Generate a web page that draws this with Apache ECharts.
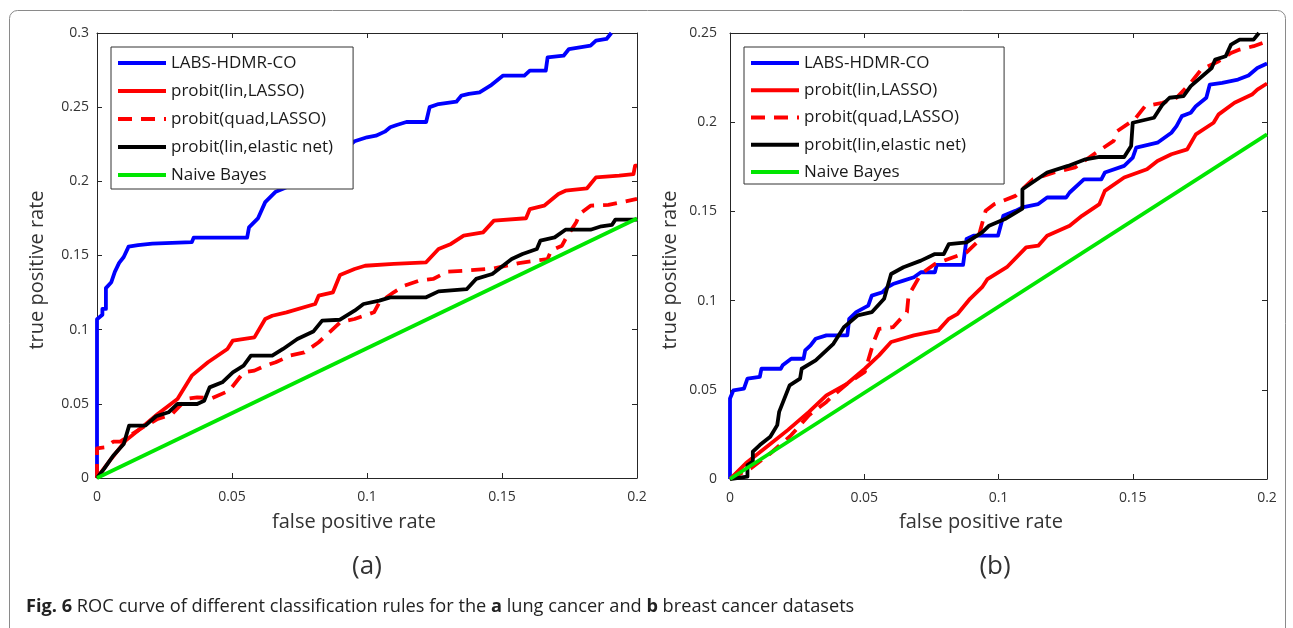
<!DOCTYPE html>
<html>
<head>
<meta charset="utf-8">
<script src="https://cdn.jsdelivr.net/npm/echarts@6/dist/echarts.min.js"></script>
<style>
  html, body { margin: 0; padding: 0; background: #fff; }
  #chart { width: 1293px; height: 628px; }
</style>
</head>
<body>
<div id="chart"></div>
<script>
const FONT = "'Open Sans', 'Noto Sans', sans-serif";
const palette = { blue: "#0000ff", red: "#ff0000", black: "#000000", green: "#00e600", axis: "#262626" };

const seriesNames = ["LABS-HDMR-CO", "probit(lin,LASSO)", "probit(quad,LASSO)", "probit(lin,elastic net)", "Naive Bayes"];
const xTicks = [0, 0.05, 0.1, 0.15, 0.2];
const lungYMax = 0.3;
const breastYMax = 0.25;

// (a) lung cancer, [false positive rate, true positive rate]
const lungLabs = [[0,0],[0,0.107],[0.002,0.11],[0.002,0.114],[0.0033,0.114],[0.0033,0.128],[0.0053,0.132],[0.0066,0.139],[0.0082,0.145],[0.0099,0.149],[0.0117,0.156],[0.0152,0.157],[0.0205,0.158],[0.0351,0.159],[0.0358,0.162],[0.0556,0.162],[0.0563,0.169],[0.0596,0.175],[0.0623,0.186],[0.0662,0.193],[0.0689,0.195],[0.075,0.2],[0.085,0.212],[0.092,0.222],[0.0954,0.227],[0.1,0.2297],[0.1033,0.2308],[0.1066,0.2335],[0.1086,0.2364],[0.111,0.238],[0.1146,0.24],[0.1219,0.24],[0.1232,0.25],[0.1265,0.2521],[0.1331,0.2537],[0.135,0.2578],[0.1377,0.2589],[0.1417,0.26],[0.1457,0.2645],[0.1503,0.2712],[0.1583,0.2712],[0.1603,0.2746],[0.1662,0.2746],[0.1669,0.2836],[0.1728,0.2847],[0.1748,0.2892],[0.1828,0.2915],[0.1848,0.2948],[0.1887,0.296],[0.1905,0.3]];
const lungLin = [[0,0],[0.0053,0.013],[0.0106,0.0252],[0.0159,0.033],[0.0225,0.0431],[0.0298,0.0533],[0.0351,0.069],[0.0411,0.078],[0.0483,0.087],[0.0503,0.0926],[0.0583,0.0948],[0.0623,0.1072],[0.0649,0.1094],[0.0702,0.1117],[0.0808,0.1173],[0.0821,0.1229],[0.0874,0.1252],[0.09,0.1369],[0.0954,0.1409],[0.0993,0.1431],[0.1099,0.1443],[0.1219,0.1454],[0.1265,0.1544],[0.1311,0.1578],[0.1358,0.1634],[0.143,0.1656],[0.147,0.1735],[0.1589,0.1751],[0.1603,0.1813],[0.1656,0.1836],[0.1709,0.1915],[0.1735,0.1937],[0.1815,0.1953],[0.1848,0.2027],[0.1934,0.2038],[0.1987,0.2049],[0.1993,0.2106],[0.2,0.2106]];
const lungQuad = [[0,0],[0,0.02],[0.0033,0.0207],[0.006,0.0245],[0.0086,0.0245],[0.0159,0.033],[0.0225,0.0398],[0.0278,0.0431],[0.0331,0.0533],[0.0371,0.0544],[0.0424,0.0537],[0.049,0.0589],[0.0543,0.0712],[0.0583,0.0724],[0.0623,0.0757],[0.0662,0.078],[0.0715,0.0825],[0.0768,0.0847],[0.0821,0.0915],[0.0848,0.096],[0.0901,0.105],[0.0954,0.1072],[0.1026,0.1117],[0.1046,0.1184],[0.1099,0.1252],[0.1139,0.1297],[0.1192,0.133],[0.1245,0.1342],[0.1298,0.1391],[0.1364,0.1398],[0.147,0.1413],[0.1563,0.1449],[0.1669,0.1476],[0.1682,0.1533],[0.1722,0.1566],[0.1735,0.1611],[0.1775,0.1724],[0.1788,0.178],[0.1828,0.1836],[0.1894,0.1841],[0.2,0.1881]];
const lungNet = [[0,0],[0.0026,0.0061],[0.006,0.015],[0.0099,0.0229],[0.0119,0.0353],[0.0179,0.0353],[0.0219,0.0416],[0.0265,0.0443],[0.0298,0.0499],[0.0371,0.0499],[0.0397,0.0521],[0.0417,0.0611],[0.0464,0.0645],[0.0503,0.0712],[0.0543,0.0757],[0.057,0.0825],[0.0649,0.0825],[0.0689,0.087],[0.0742,0.0937],[0.0801,0.0987],[0.0834,0.1061],[0.09,0.1067],[0.0954,0.1128],[0.0987,0.1173],[0.1046,0.1196],[0.1086,0.1218],[0.1219,0.1218],[0.1265,0.1258],[0.137,0.1274],[0.1404,0.1342],[0.1464,0.1375],[0.1536,0.1476],[0.1576,0.151],[0.1629,0.1544],[0.1642,0.16],[0.1695,0.1622],[0.1735,0.1674],[0.1828,0.1674],[0.1868,0.1697],[0.1907,0.1706],[0.192,0.1742],[0.2,0.1742]];
const lungBayes = [[0,0],[0.2,0.175]];

// (b) breast cancer
const breastLabs = [[0,0],[0,0.0451],[0.0013,0.0497],[0.0052,0.0507],[0.0065,0.0563],[0.0111,0.0572],[0.0117,0.0618],[0.0189,0.0618],[0.0196,0.0637],[0.0228,0.0674],[0.0274,0.0674],[0.028,0.0721],[0.03,0.0749],[0.0319,0.0786],[0.0359,0.0805],[0.0437,0.0805],[0.0444,0.0898],[0.047,0.0935],[0.0515,0.0972],[0.0528,0.1028],[0.0568,0.1047],[0.0587,0.1075],[0.0607,0.1093],[0.0646,0.1112],[0.0685,0.1131],[0.0711,0.1159],[0.0763,0.1159],[0.077,0.12],[0.0868,0.12],[0.0881,0.1345],[0.0907,0.1364],[0.0998,0.1364],[0.1018,0.1475],[0.1063,0.1503],[0.1089,0.1522],[0.1148,0.1541],[0.1181,0.1578],[0.1252,0.1578],[0.1265,0.1606],[0.1318,0.168],[0.1383,0.168],[0.1396,0.1718],[0.1468,0.1755],[0.15,0.1801],[0.1513,0.1857],[0.1592,0.1885],[0.1644,0.1941],[0.1663,0.1978],[0.1683,0.2034],[0.1716,0.2053],[0.1735,0.209],[0.1774,0.2137],[0.1787,0.2211],[0.1833,0.2221],[0.1892,0.2239],[0.1931,0.2262],[0.1964,0.2304],[0.2,0.2329]];
const breastLin = [[0,0],[0.0059,0.0088],[0.0137,0.0181],[0.0215,0.0274],[0.0294,0.0376],[0.0359,0.0469],[0.0437,0.0535],[0.0502,0.0618],[0.0555,0.0693],[0.06,0.0768],[0.0685,0.0805],[0.0776,0.0833],[0.0815,0.0898],[0.0848,0.0926],[0.0894,0.101],[0.0939,0.1075],[0.0959,0.1121],[0.1031,0.1187],[0.1103,0.1298],[0.1148,0.1308],[0.1181,0.1364],[0.1265,0.142],[0.1311,0.1475],[0.1376,0.1541],[0.1396,0.1615],[0.1468,0.169],[0.1553,0.1736],[0.1592,0.1783],[0.1644,0.182],[0.1703,0.1848],[0.1735,0.1932],[0.1801,0.1997],[0.182,0.2044],[0.1879,0.2109],[0.1944,0.2155],[0.1964,0.2183],[0.2,0.2217]];
const breastQuad = [[0,0],[0.0078,0.006],[0.015,0.0143],[0.0228,0.0246],[0.0294,0.0358],[0.0359,0.0432],[0.0385,0.0469],[0.0437,0.0535],[0.0502,0.06],[0.0535,0.0768],[0.0555,0.0842],[0.0607,0.0851],[0.0659,0.0935],[0.0665,0.1028],[0.0711,0.1149],[0.0763,0.1205],[0.0881,0.127],[0.092,0.1326],[0.0952,0.1503],[0.0985,0.1541],[0.1063,0.1587],[0.1128,0.168],[0.1207,0.1718],[0.1285,0.1746],[0.1363,0.1829],[0.1429,0.1895],[0.1442,0.195],[0.1507,0.2016],[0.1546,0.209],[0.1611,0.2109],[0.1663,0.2137],[0.1716,0.2221],[0.1755,0.2295],[0.182,0.2342],[0.1866,0.2388],[0.1898,0.2407],[0.195,0.2426],[0.2,0.2453]];
const breastNet = [[0,0],[0.0065,0.0013],[0.0065,0.0078],[0.0085,0.0097],[0.0085,0.0153],[0.0111,0.019],[0.015,0.0237],[0.0176,0.0302],[0.0183,0.0376],[0.0222,0.0525],[0.0261,0.0563],[0.0267,0.0618],[0.0319,0.0665],[0.0385,0.0758],[0.0424,0.0851],[0.0476,0.0917],[0.0528,0.0935],[0.0574,0.101],[0.06,0.1149],[0.0646,0.1187],[0.0711,0.1224],[0.0763,0.1261],[0.0796,0.1261],[0.0815,0.1317],[0.0881,0.1326],[0.0939,0.1382],[0.0965,0.142],[0.1024,0.1457],[0.1089,0.1516],[0.1089,0.1624],[0.1181,0.1718],[0.1259,0.1755],[0.1324,0.1792],[0.1376,0.1805],[0.1468,0.1805],[0.1494,0.1867],[0.15,0.1997],[0.1579,0.2025],[0.1611,0.2099],[0.1637,0.2137],[0.1689,0.2146],[0.1716,0.2202],[0.1794,0.2304],[0.1807,0.2351],[0.1846,0.237],[0.1866,0.2435],[0.1898,0.2463],[0.195,0.2463],[0.197,0.25]];
const breastBayes = [[0,0],[0.2,0.1932]];

const styles = [
  { color: palette.blue, type: "solid" },
  { color: palette.red, type: "solid" },
  { color: palette.red, type: [14, 9] },
  { color: palette.black, type: "solid" },
  { color: palette.green, type: "solid" },
];

function makeSeries(data, index, axis) {
  return {
    name: seriesNames[index],
    type: "line",
    xAxisIndex: axis,
    yAxisIndex: axis,
    data,
    symbol: "none",
    showSymbol: false,
    animation: false,
    itemStyle: { color: "rgba(0,0,0,0)" },
    lineStyle: { color: styles[index].color, width: 3.8, type: styles[index].type, join: "round" },
  };
}

function xAxisDef(grid, position, labels) {
  return {
    type: "value", gridIndex: grid, position, min: 0, max: 0.2, interval: 0.05,
    axisLine: { show: true, onZero: false, lineStyle: { color: palette.axis, width: 1 } },
    axisTick: { show: true, inside: true, length: 5, lineStyle: { color: palette.axis } },
    axisLabel: { show: labels, margin: 12, color: "#333", fontSize: 14, fontFamily: FONT },
    splitLine: { show: false },
  };
}

function yAxisDef(grid, position, max, labels, margin) {
  return {
    type: "value", gridIndex: grid, position, min: 0, max, interval: 0.05,
    axisLine: { show: true, onZero: false, lineStyle: { color: palette.axis, width: 1 } },
    axisTick: { show: true, inside: true, length: 5, lineStyle: { color: palette.axis } },
    axisLabel: { show: labels, margin, color: "#333", fontSize: 14, fontFamily: FONT },
    splitLine: { show: false },
  };
}

function legendDef(left, top, gap, padding) {
  return {
    left, top, orient: "vertical",
    data: seriesNames,
    itemWidth: 48, itemHeight: 17, itemGap: gap,
    padding,
    backgroundColor: "#fff",
    borderColor: "#333", borderWidth: 1, borderRadius: 0,
    selectedMode: false,
    itemStyle: { opacity: 0 },
    lineStyle: { width: 4 },
    textStyle: { color: "#1a1a1a", fontSize: 17, fontFamily: FONT, lineHeight: 17 },
    z: 10,
  };
}

function text(x, y, str, size, rotation) {
  return {
    type: "text", x, y, rotation: rotation || 0, z: 20,
    style: {
      text: str, fill: "#333", font: `${size}px ${FONT}`,
      align: "center", verticalAlign: "middle",
      textAlign: "center", textVerticalAlign: "middle",
    },
  };
}

const chart = echarts.init(document.getElementById("chart"), null, { renderer: "canvas" });
chart.setOption({
  backgroundColor: "#fff",
  animation: false,
  grid: [
    { left: 97, top: 33, width: 540, height: 445 },
    { left: 730, top: 33, width: 537, height: 446 },
  ],
  xAxis: [xAxisDef(0, "bottom", true), xAxisDef(1, "bottom", true), xAxisDef(0, "top", false), xAxisDef(1, "top", false)],
  yAxis: [yAxisDef(0, "left", lungYMax, true, 8), yAxisDef(1, "left", breastYMax, true, 13), yAxisDef(0, "right", lungYMax, false, 8), yAxisDef(1, "right", breastYMax, false, 8)],
  legend: [legendDef(111, 47, 11, [7.5, 20, 5.5, 5]), legendDef(744, 47, 10.25, [7.5, 38, 3.5, 5])],
  series: [
    makeSeries(lungLabs, 0, 0),
    makeSeries(lungLin, 1, 0),
    makeSeries(lungQuad, 2, 0),
    makeSeries(lungNet, 3, 0),
    makeSeries(lungBayes, 4, 0),
    makeSeries(breastLabs, 0, 1),
    makeSeries(breastLin, 1, 1),
    makeSeries(breastQuad, 2, 1),
    makeSeries(breastNet, 3, 1),
    makeSeries(breastBayes, 4, 1),
  ],
  graphic: [
    { type: "rect", z: 0, shape: { x: 9.5, y: 10.5, width: 1276, height: 640, r: 8 }, style: { fill: "none", stroke: "#8a8a8a", lineWidth: 1 } },
    text(354, 522, "false positive rate", 20),
    text(981, 522, "false positive rate", 20),
    text(37, 270, "true positive rate", 20, Math.PI / 2),
    text(670, 270, "true positive rate", 20, Math.PI / 2),
    text(367, 567, "(a)", 26),
    text(995, 567, "(b)", 26),
    {
      type: "text", x: 26, y: 607, z: 20,
      style: {
        text: "{b|Fig. 6} ROC curve of different classification rules for the {b|a} lung cancer and {b|b} breast cancer datasets",
        fill: "#222", font: `18.2px ${FONT}`,
        verticalAlign: "middle", textVerticalAlign: "middle",
        rich: { b: { fontWeight: "bold", fontSize: 18.2, fontFamily: FONT, fill: "#222", color: "#222" } },
      },
    },
  ],
});
</script>
</body>
</html>
